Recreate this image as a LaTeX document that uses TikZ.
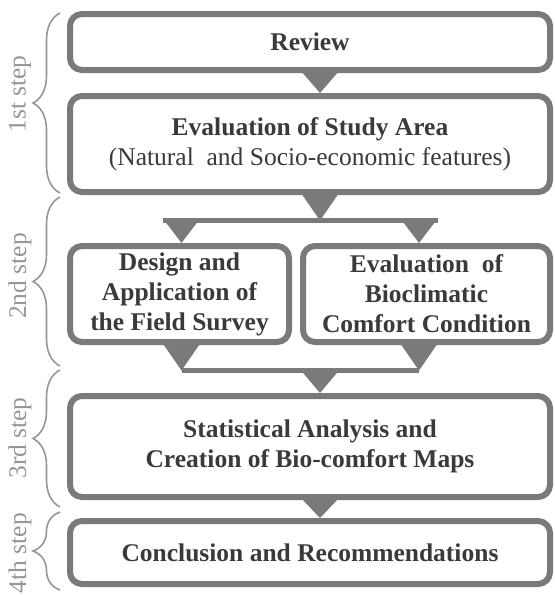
\documentclass[tikz,border=0pt]{standalone}
\usepackage{fontspec}
\setmainfont{Liberation Serif}
\usetikzlibrary{positioning,decorations.pathreplacing}

\definecolor{boxgray}{RGB}{122,122,122}
\definecolor{txtgray}{RGB}{58,58,58}
\definecolor{stepgray}{RGB}{150,150,150}

\begin{document}
\begin{tikzpicture}[x=0.5pt,y=0.5pt,node distance=10pt,
    stepbox/.style={draw=boxgray,line width=3pt,rounded corners=6pt,fill=white,
      text=txtgray,font=\fontsize{12.75}{15}\selectfont\bfseries,align=center,
      inner sep=0pt,minimum width=240pt},
    arrowtri/.style={fill=boxgray},
    joinbar/.style={draw=boxgray,line width=2.5pt},
    stepbrace/.style={draw=stepgray,line width=0.8pt,decorate,
      decoration={brace,amplitude=13.5pt}},
    steplabel/.style={text=stepgray,font=\fontsize{12.75}{15}\selectfont,rotate=90}]

  \useasboundingbox (0,0) rectangle (555,-595);

  \node[stepbox,minimum height=28pt] (rev) at (310,-42) {Review};
  \node[stepbox,minimum height=48pt] (area) [below=10pt of rev]
       {Evaluation of Study Area\\{\mdseries (Natural\ \ and Socio-economic features)}};
  \node[stepbox,minimum width=109.5pt,minimum height=48pt] (field)
       [below=24pt of area.south west,anchor=north west]
       {Design and\\Application of\\the Field Survey};
  \node[stepbox,minimum width=123.5pt,minimum height=48pt] (bio)
       [below=24pt of area.south east,anchor=north east]
       {Evaluation\ \ of\\Bioclimatic\\Comfort Condition};
  \node[stepbox,minimum height=50.5pt] (stat)
       [below=24pt of field.south west,anchor=north west]
       {Statistical Analysis and\\Creation of Bio-comfort Maps};
  \node[stepbox,minimum height=31.5pt] (concl) [below=9pt of stat]
       {Conclusion and Recommendations};

  % review -> study area
  \fill[arrowtri] ([xshift=-4.5pt,yshift=1pt]rev.south) -- ([xshift=14.5pt,yshift=1pt]rev.south)
       -- ([xshift=5pt]area.north) -- cycle;

  % split
  \coordinate (spl) at ([yshift=-12.75pt]area.south);
  \coordinate (splL) at (spl -| field.north);
  \coordinate (splR) at (spl -| bio.north);
  \fill[arrowtri] ([xshift=-4.5pt,yshift=1pt]area.south) -- ([xshift=14.5pt,yshift=1pt]area.south)
       -- ([xshift=5pt]spl) -- cycle;
  \draw[joinbar] ([xshift=-8.5pt]splL) -- ([xshift=5.75pt]splR);
  \fill[arrowtri] ([xshift=-8.5pt,yshift=1.25pt]splL) -- ([xshift=10.5pt,yshift=1.25pt]splL)
       -- ([xshift=1pt]field.north) -- cycle;
  \fill[arrowtri] ([xshift=-13.25pt,yshift=1.25pt]splR) -- ([xshift=5.75pt,yshift=1.25pt]splR)
       -- ([xshift=-3.75pt]bio.north) -- cycle;

  % merge
  \coordinate (mrg) at ([yshift=-12.75pt]field.south);
  \coordinate (mrgR) at (mrg -| bio.south);
  \coordinate (mrgM) at (mrg -| stat.north);
  \fill[arrowtri] ([xshift=-8.5pt,yshift=1pt]field.south) -- ([xshift=10.5pt,yshift=1pt]field.south)
       -- ([xshift=1pt]mrg) -- cycle;
  \fill[arrowtri] ([xshift=-13.25pt,yshift=1pt]bio.south) -- ([xshift=5.75pt,yshift=1pt]bio.south)
       -- ([xshift=-3.75pt]mrgR) -- cycle;
  \draw[joinbar] ([xshift=1pt]mrg) -- ([xshift=-3.75pt]mrgR);
  \fill[arrowtri] ([xshift=-4.5pt]mrgM) -- ([xshift=14.5pt]mrgM)
       -- ([xshift=5pt]stat.north) -- cycle;

  % statistics -> conclusion
  \fill[arrowtri] ([xshift=-4.5pt,yshift=1pt]stat.south) -- ([xshift=14.5pt,yshift=1pt]stat.south)
       -- ([xshift=5pt]concl.north) -- cycle;

  % steps
  \draw[stepbrace] (60,-193) -- (60,-13);
  \draw[stepbrace] (60,-366) -- (60,-197);
  \draw[stepbrace] (60,-507) -- (60,-370);
  \draw[stepbrace] (60,-590) -- (60,-512);
  \node[steplabel] (s1) at (20,-94)  {1st step};
  \node[steplabel] (s2) at (20,-276) {2nd step};
  \node[steplabel] (s3) at (20,-438) {3rd step};
  \node[steplabel] (s4) at (20,-553) {4th step};

\end{tikzpicture}
\end{document}
